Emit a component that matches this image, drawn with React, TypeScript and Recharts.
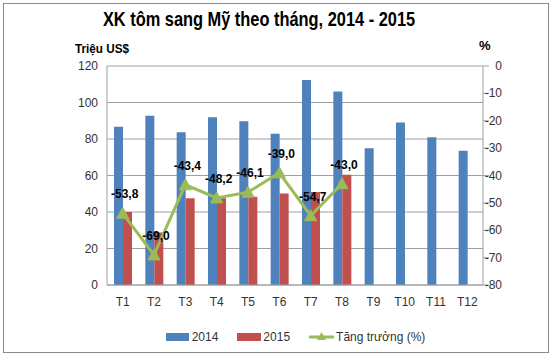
import React from "react";
import {
  ComposedChart,
  Bar,
  Line,
  XAxis,
  YAxis,
  CartesianGrid,
  Legend,
  LabelList,
} from "recharts";

const months = ["T1", "T2", "T3", "T4", "T5", "T6", "T7", "T8", "T9", "T10", "T11", "T12"];
const exports2014 = [86.7, 92.8, 83.7, 91.9, 89.7, 82.9, 112.3, 106, 75, 89, 81, 73.6];
const exports2015: (number | null)[] = [40, 28.8, 47.5, 47.6, 48.4, 50.2, 50.9, 60.4, null, null, null, null];
const growth: (number | null)[] = [-53.8, -69.0, -43.4, -48.2, -46.1, -39.0, -54.7, -43.0, null, null, null, null];
const leftTicks = [0, 20, 40, 60, 80, 100, 120];
const rightTicks = [0, -10, -20, -30, -40, -50, -60, -70, -80];

const data = months.map((m, i) => ({
  month: m,
  y2014: exports2014[i],
  y2015: exports2015[i],
  growth: growth[i],
}));

const FONT = "'Liberation Sans', Arial, sans-serif";
const BLUE = "#4F81BD";
const RED = "#C0504D";
const GREEN = "#9BBB59";

const Triangle = (props: any) => {
  const { cx, cy } = props;
  if (cx == null || cy == null) return null;
  return (
    <path
      d={`M${cx},${cy - 6} L${cx + 6},${cy + 5} L${cx - 6},${cy + 5} Z`}
      fill={GREEN}
      stroke={GREEN}
    />
  );
};

const GrowthLabel = (props: any) => {
  const { x, y, value } = props;
  if (value == null) return null;
  return (
    <text
      x={x + 2}
      y={y - 15}
      textAnchor="middle"
      fontFamily={FONT}
      fontWeight="bold"
      fontSize={12}
      fill="#000"
    >
      {value.toFixed(1).replace(".", ",")}
    </text>
  );
};

const LegendContent = () => (
  <div
    style={{
      display: "flex",
      justifyContent: "center",
      alignItems: "center",
      fontFamily: FONT,
      fontSize: 12,
      color: "#333",
      paddingLeft: 38,
    }}
  >
    <span style={{ display: "inline-block", width: 23, height: 8, background: BLUE, marginRight: 3 }} />
    <span style={{ marginRight: 19 }}>2014</span>
    <span style={{ display: "inline-block", width: 24, height: 8, background: RED, marginRight: 2 }} />
    <span style={{ marginRight: 19 }}>2015</span>
    <svg width={25} height={12} style={{ marginRight: 2 }}>
      <line x1={0} y1={6} x2={25} y2={6} stroke={GREEN} strokeWidth={3} />
      <path d="M12.5,1 L17,9 L8,9 Z" fill={GREEN} />
    </svg>
    <span>Tăng trưởng (%)</span>
  </div>
);

const RightTick = (props: any) => {
  const { x, y, payload } = props;
  return (
    <text x={x + 13} y={y} dy={4} textAnchor="end" fontFamily={FONT} fontSize={12} fill="#333">
      {payload.value}
    </text>
  );
};

export default function App() {
  return (
    <div style={{ position: "relative", width: 553, height: 359, background: "#fff" }}>
      <style>{"body{margin:0}"}</style>
      <div
        style={{
          position: "absolute",
          left: 3,
          top: 3,
          width: 546,
          height: 350,
          border: "1px solid #8a8a8a",
          boxSizing: "border-box",
        }}
      />
      <div
        style={{
          position: "absolute",
          left: 0,
          width: 518,
          top: 7,
          textAlign: "center",
          fontFamily: FONT,
          fontWeight: "bold",
          fontSize: 21,
          color: "#000",
          transform: "scaleX(0.78)",
          transformOrigin: "259px 0",
        }}
      >
        XK tôm sang Mỹ theo tháng, 2014 - 2015
      </div>
      <div
        style={{
          position: "absolute",
          left: 75,
          top: 41,
          fontFamily: FONT,
          fontWeight: "bold",
          fontSize: 13,
          color: "#000",
          transform: "scaleX(0.9)",
          transformOrigin: "0 0",
        }}
      >
        Triệu US$
      </div>
      <div
        style={{
          position: "absolute",
          left: 479,
          top: 38,
          fontFamily: FONT,
          fontWeight: "bold",
          fontSize: 13,
          color: "#000",
        }}
      >
        %
      </div>
      <ComposedChart
        width={553}
        height={359}
        data={data}
        margin={{ top: 66, right: 0, bottom: 44, left: 0 }}
        barGap={0}
        style={{ position: "absolute", left: 0, top: 0 }}
      >
        <CartesianGrid vertical={false} stroke="#a0a0a0" yAxisId="left" />
        <XAxis
          dataKey="month"
          height={30}
          tickLine={false}
          axisLine={{ stroke: "#a0a0a0" }}
          tick={{ fontFamily: FONT, fontSize: 12, fill: "#333" }}
          tickMargin={6}
        />
        <YAxis
          yAxisId="left"
          orientation="left"
          width={107}
          domain={[0, 120]}
          ticks={leftTicks}
          tickLine={false}
          axisLine={{ stroke: "#a0a0a0" }}
          tick={{ fontFamily: FONT, fontSize: 12, fill: "#333" }}
          tickMargin={3}
        />
        <YAxis
          yAxisId="right"
          orientation="right"
          width={70}
          domain={[-80, 0]}
          ticks={rightTicks}
          tickLine={{ stroke: "#a0a0a0" }}
          tickSize={6}
          axisLine={{ stroke: "#a0a0a0" }}
          tick={<RightTick />}
          tickMargin={0}
        />
        <Bar yAxisId="left" dataKey="y2014" name="2014" fill={BLUE} barSize={9} isAnimationActive={false} />
        <Bar yAxisId="left" dataKey="y2015" name="2015" fill={RED} barSize={9} isAnimationActive={false} />
        <Line
          yAxisId="right"
          dataKey="growth"
          name="Tăng trưởng (%)"
          stroke={GREEN}
          strokeWidth={3}
          dot={<Triangle />}
          activeDot={false}
          isAnimationActive={false}
        >
          <LabelList dataKey="growth" content={<GrowthLabel />} />
        </Line>
        <Legend
          verticalAlign="middle"
          align="center"
          layout="horizontal"
          content={<LegendContent />}
          wrapperStyle={{ top: 330, left: 0, width: 553 }}
        />
      </ComposedChart>
    </div>
  );
}
